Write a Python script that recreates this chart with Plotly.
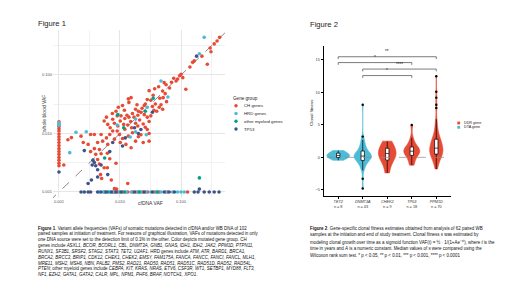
import plotly.graph_objects as go

W, H = 520, 292
def px(x): return x / W
def py(y): return 1 - y / H

FONT = "Liberation Sans, Arial, sans-serif"

# ---------------- Figure 1 data (VAFs) ----------------
DETECTION_LIMIT = 0.001
gene_groups = ["CH genes", "HRD genes", "other myeloid genes", "TP53"]
group_colors = ["#E64B35", "#4DBBD5", "#00A087", "#3C5488"]

ch_cf = [0.43,0.39,0.35,0.30,0.31,0.22,0.165,0.155,0.27,0.14,
         0.10,0.095,0.107,0.088,0.083,0.076,0.12,0.053,0.057,0.043,
         0.037,0.030,0.050,0.055,0.051,0.058,0.047,0.0152,0.0137,0.014,
         0.028,0.032,0.038,0.044,0.050,0.040,0.025,0.019,0.018,0.016,
         0.011,0.0118,0.0094,0.0086,0.0104,0.013,0.014,0.017,0.0196,0.021,
         0.022,0.025,0.028,0.032,0.030,0.006,0.0055,0.0063,0.0076,0.0081,
         0.0092,0.0069,0.0101,0.0115,0.0134,0.0155,0.0196,0.028,0.030,0.016,
         0.0137,0.011,0.0098,0.0076,0.0068,0.006,0.0049,0.0038,0.0033,0.0023,
         0.0025,0.003,0.0014,0.0016,0.0012,0.0043,0.0052,0.0063,0.0046,0.0038,
         0.0033,0.004,0.0049,0.0062,0.0081,0.0101,0.0125,0.018,0.0152,0.024,
         0.030,0.0043,0.0046,0.0055,0.0062,0.0086,0.0068,0.0048,0.005,0.0072,
         0.0134,0.0081,0.0088,0.020,0.023,0.026,0.034,0.036,0.012,0.015,
         0.018,0.024,0.026,0.009,0.012,0.022,0.020,0.035,0.065,0.070,
         0.009,0.0075,0.045]
ch_wb = [0.44,0.38,0.34,0.29,0.25,0.21,0.174,0.165,0.153,0.137,
         0.103,0.097,0.09,0.085,0.079,0.088,0.057,0.074,0.068,0.063,
         0.058,0.054,0.053,0.048,0.041,0.035,0.031,0.041,0.039,0.034,
         0.038,0.037,0.032,0.028,0.026,0.024,0.030,0.031,0.026,0.022,
         0.030,0.025,0.028,0.024,0.020,0.0205,0.019,0.019,0.0205,0.017,
         0.023,0.021,0.019,0.020,0.016,0.019,0.0163,0.0143,0.0175,0.015,
         0.0134,0.0125,0.0163,0.0143,0.014,0.0125,0.0134,0.0117,0.0100,0.0103,
         0.009,0.0082,0.0096,0.011,0.0096,0.0084,0.0096,0.0096,0.0096,0.0090,
         0.0070,0.0065,0.0078,0.0085,0.0029,0.007,0.0074,0.0065,0.0053,0.0055,
         0.0049,0.0044,0.0045,0.0046,0.008,0.007,0.0065,0.0074,0.0057,0.007,
         0.0074,0.0036,0.003,0.0026,0.0026,0.0031,0.0037,0.00198,0.0017,0.0016,
         0.0014,0.00114,0.00112,0.024,0.027,0.032,0.029,0.025,0.018,0.016,
         0.015,0.0145,0.0128,0.011,0.0118,0.0095,0.0088,0.045,0.060,0.075,
         0.020,0.022,0.040]
ch_wb_only = [0.0158,0.0145,0.0132,0.012,0.011,0.0098,0.0088,0.0079,0.007,
              0.0062,0.0055,0.0049,0.0044,0.0039,0.0035,0.0031,0.0028]
ch_cf_only = [0.0056,0.0076,0.0081,0.0092,0.011,0.0134,0.016,0.0196,0.0236,
              0.0284,0.037,0.044,0.060,0.128]

hrd_cf = [0.24,0.20,0.047,0.061,0.028,0.018,0.018,0.0147,0.0028,0.0019,0.0015,0.027,0.009]
hrd_wb = [0.44,0.23,0.079,0.042,0.028,0.0176,0.0107,0.0087,0.0107,0.0105,0.0047,0.0095,0.014]
hrd_wb_only = [0.0152,0.0138]
hrd_cf_only = [0.0046,0.0054,0.0068,0.0081,0.0098,0.0126,0.0152,0.0183,0.022,
               0.0266,0.032,0.039,0.047,0.056,0.073,0.088,0.10,0.113]

mye_cf = [0.035,0.0092,0.026,0.0056,0.20,0.0115]
mye_wb = [0.040,0.021,0.024,0.0038,0.00174,0.0125]
mye_wb_only = []
mye_cf_only = [0.0063,0.0118,0.0208,0.041]

tp53_cf = [0.18,0.034,0.0173,0.022,0.020,0.0122,0.0026,0.0068,0.0076,0.011,
           0.0036,0.0038,0.0035,0.004,0.0049,0.0043,0.0063,0.0043,0.0034,0.003,0.20]
tp53_wb = [0.21,0.023,0.0125,0.0117,0.0100,0.0084,0.0051,0.0049,0.007,0.0061,
           0.0035,0.0032,0.0029,0.0028,0.0029,0.0024,0.00198,0.0018,0.0016,0.0014,0.00112]
tp53_wb_only = [0.0022]
tp53_cf_only = [0.0023,0.0026,0.003,0.0033,0.0043,0.0049,0.0059,0.0072,0.0086,0.0104,
                0.0173,0.025,0.034,0.053,0.064,0.078,0.165,0.19,0.24,0.29,0.35,0.42]

scatter_groups = [
    (ch_cf, ch_wb, ch_wb_only, ch_cf_only),
    (hrd_cf, hrd_wb, hrd_wb_only, hrd_cf_only),
    (mye_cf, mye_wb, mye_wb_only, mye_cf_only),
    (tp53_cf, tp53_wb, tp53_wb_only, tp53_cf_only),
]

# ---------------- Figure 2 data (clonal fitness) ----------------
genes = ["TET2", "DNMT3A", "CHEK2", "TP53", "PPM1D"]
gene_class = ["DTA", "DTA", "DDR", "DDR", "DDR"]
fitness = {
    "TET2": [-0.45, -0.1, 0.05, 0.2, 0.35, 0.55, 0.75, 1.05],
    "DNMT3A": [-4.8, -3.3, -2.0, -1.7, -1.4, -1.2, -1.0, -0.8, -0.7, -0.6,
               -0.5, -0.4, -0.3, -0.2, -0.15, -0.1, -0.05, 0.0, 0.05, 0.1,
               0.15, 0.2, 0.25, 0.3, 0.35, 0.4, 0.45, 0.5, 0.6, 0.7,
               0.8, 0.9, 1.0, 1.1, 1.3, 1.5, 1.7, 1.9, 2.1, 2.4,
               2.7, 3.2, 8.1],
    "CHEK2": [-2.4, -0.8, -0.3, 0.3, 0.6, 0.9, 1.2, 2.0, 2.5],
    "TP53": [-1.2, -0.9, -0.4, 0.0, 0.3, 0.5, 0.6, 0.8, 0.9, 1.0, 1.1, 1.3,
             1.5, 1.6, 1.9, 2.3, 3.0, 5.0],
    "PPM1D": [-1.8, -1.6, -1.3, -1.1, -0.9, -0.7, -0.5, -0.4, -0.3, -0.2,
              -0.1, 0.0, 0.1, 0.2, 0.3, 0.4, 0.45,
              0.5, 0.55, 0.6, 0.65, 0.7, 0.8, 0.85, 0.9, 0.95, 1.0, 1.05, 1.1,
              1.15, 1.2, 1.25, 1.3, 1.35, 1.4,
              1.45, 1.5, 1.6, 1.7, 1.8, 1.9, 2.0, 2.1, 2.2, 2.3, 2.35, 2.4, 2.45,
              2.5, 2.55, 2.6, 2.7,
              2.8, 2.9, 3.0, 3.2, 3.4, 3.6, 3.8, 4.0, 4.3, 4.6, 5.0, 5.4, 5.9,
              7.6, 8.1, 9.2, 10.1, 12.5],
}
class_colors = {"DDR": "#E64B35", "DTA": "#4DBBD5"}
violin_widths = [0.93, 0.71, 0.72, 0.65, 0.54]
sig_pairs = [("TET2", "PPM1D", 15.5, "**"), ("TET2", "TP53", 14.6, "*"),
             ("DNMT3A", "PPM1D", 13.6, "****"), ("DNMT3A", "TP53", 12.6, "*")]

fig = go.Figure()

# reference diagonal
fig.add_trace(go.Scatter(x=[0.0007, 0.7], y=[0.0007, 0.7], mode="lines",
                         line=dict(color="#7a7a7a", width=0.9, dash="dash"),
                         xaxis="x", yaxis="y", showlegend=False, hoverinfo="skip"))

for (cf, wb, wb_only, cf_only), name, col in zip(scatter_groups, gene_groups, group_colors):
    xs = list(cf) + [DETECTION_LIMIT] * len(wb_only) + list(cf_only)
    ys = list(wb) + list(wb_only) + [DETECTION_LIMIT] * len(cf_only)
    fig.add_trace(go.Scatter(x=xs, y=ys, mode="markers", name=name,
                             marker=dict(color=col, size=3.6, line=dict(width=0)),
                             xaxis="x", yaxis="y", showlegend=False))

for i, g in enumerate(genes):
    col = class_colors[gene_class[i]]
    vpx = violin_widths[i] * 24.5
    fig.add_trace(go.Violin(
        x=[i] * len(fitness[g]), y=fitness[g], name=g, xaxis="x2", yaxis="y2",
        fillcolor=col, line=dict(color=col, width=0.6), opacity=1,
        width=violin_widths[i], scalemode="width", spanmode="hard",
        box=dict(visible=True, width=3.4 / vpx, fillcolor="white",
                 line=dict(color="black", width=0.7)),
        meanline=dict(visible=False),
        points="outliers", pointpos=0, jitter=0,
        marker=dict(color="black", size=2.4, line=dict(width=0)),
        showlegend=False))

shapes = []
annotations = []

# zero line in figure 2
shapes.append(dict(type="line", xref="x2 domain", yref="y2", x0=0.027, x1=1, y0=0, y1=0,
                   line=dict(color="#8c8c8c", width=0.7, dash="dash"), layer="above"))
# significance brackets
for a, b, yv, lab in sig_pairs:
    xa, xb = genes.index(a), genes.index(b)
    shapes.append(dict(type="path", xref="x2", yref="y2",
                       path=f"M {xa},{yv-0.35} L {xa},{yv} L {xb},{yv} L {xb},{yv-0.35}",
                       line=dict(color="#444444", width=0.7)))
    annotations.append(dict(x=(xa + xb) / 2, y=yv + 0.05, xref="x2", yref="y2",
                            text=lab, showarrow=False, yanchor="bottom",
                            font=dict(size=4.6, color="#222", family=FONT)))

# titles
annotations.append(dict(x=px(27.5), y=py(15.7), xref="paper", yref="paper", text="Figure 1",
                        showarrow=False, xanchor="left", yanchor="middle",
                        font=dict(size=7.6, color="#1a1a1a", family=FONT)))
annotations.append(dict(x=px(300), y=py(16.2), xref="paper", yref="paper", text="Figure 2",
                        showarrow=False, xanchor="left", yanchor="middle",
                        font=dict(size=7.6, color="#1a1a1a", family=FONT)))

# axis titles
annotations.append(dict(x=px(128), y=py(199.5), xref="paper", yref="paper", text="cfDNA VAF",
                        showarrow=False, font=dict(size=5, color="#333", family=FONT)))
annotations.append(dict(x=px(31), y=py(106), xref="paper", yref="paper", text="whole blood VAF",
                        showarrow=False, textangle=-90, font=dict(size=5, color="#333", family=FONT)))
annotations.append(dict(x=px(303), y=py(105), xref="paper", yref="paper", text="Clonal fitness",
                        showarrow=False, textangle=-90, font=dict(size=4.4, color="#222", family=FONT)))

# legend figure 1
annotations.append(dict(x=px(223), y=py(90), xref="paper", yref="paper", text="Gene group",
                        showarrow=False, xanchor="left", yanchor="middle",
                        font=dict(size=4.6, color="#222", family=FONT)))
for name, col, yy in zip(gene_groups, group_colors, [97.7, 105.5, 113.3, 121.0]):
    shapes.append(dict(type="circle", xref="paper", yref="paper",
                       x0=px(226.3), x1=px(229.7), y0=py(yy + 1.7), y1=py(yy - 1.7),
                       fillcolor=col, line=dict(width=0)))
    annotations.append(dict(x=px(233.5), y=py(yy), xref="paper", yref="paper", text=name,
                            showarrow=False, xanchor="left", yanchor="middle",
                            font=dict(size=4.3, color="#222", family=FONT)))

# legend figure 2
for name, col, yy in [("DDR gene", class_colors["DDR"], 115.0), ("DTA gene", class_colors["DTA"], 119.3)]:
    shapes.append(dict(type="rect", xref="paper", yref="paper",
                       x0=px(449.3), x1=px(452.1), y0=py(yy + 1.4), y1=py(yy - 1.4),
                       fillcolor=col, line=dict(width=0)))
    annotations.append(dict(x=px(453.6), y=py(yy), xref="paper", yref="paper", text=name,
                            showarrow=False, xanchor="left", yanchor="middle",
                            font=dict(size=3.7, color="#222", family=FONT)))

# captions
cap1 = [
    "<b>Figure 1</b>. Variant allele frequencies (VAFs) of somatic mutations detected in cfDNA and/or WB DNA of 102",
    "paired samples at initiation of treatment. For reasons of graphical illustration, VAFs of mutations detected in only",
    "one DNA source were set to the detection limit of 0.1% in the other. Color depicts mutated gene group. CH",
    "genes include <i>ASXL1, BCOR, BCORL1, CBL, DNMT3A, GNB1, GNAS, IDH1, IDH2, JAK2, PPM1D, PTPN11,</i>",
    "<i>RUNX1, SF3B1, SRSF2, STAG2, STAT3, TET2, U2AF1</i>. HRD genes include <i>ATM, ATR, BARD1, BRCA1,</i>",
    "<i>BRCA2, BRCC3, BRIP1, CDK12, CHEK1, CHEK2, EMSY, FAM175A, FANCA, FANCC, FANCI, FANCL, MLH1,</i>",
    "<i>MRE11, MSH2, MSH6, NBN, PALB2, PMS2, RAD21, RAD50, RAD51, RAD51C, RAD51D, RAD52, RAD54L,</i>",
    "<i>PTEN</i>; other myeloid genes include <i>CEBPA, KIT, KRAS, NRAS, ETV6, CSF3R, WT1, SETBP1, MYD88, FLT3,</i>",
    "<i>NF1, EZH2, GATA1, GATA2, CALR, MPL, NPM1, PHF6, BRAF, NOTCH1, XPO1</i>.",
]
cap2 = [
    "<b>Figure 2</b>. Gene-specific clonal fitness estimates obtained from analysis of 62 paired WB",
    "samples at the initiation and end of study treatment. Clonal fitness <i>s</i> was estimated by",
    "modeling clonal growth over time as a sigmoid function VAF(t) = ½ · 1/(1+Ae<sup>−st</sup>), where <i>t</i> is the",
    "time in years and <i>A</i> is a numeric constant. Median values of <i>s</i> were compared using the",
    "Wilcoxon rank sum test. * p &lt; 0.05, ** p &lt; 0.01, *** p &lt; 0.001, **** p &lt; 0.0001",
]
for k, line in enumerate(cap1):
    annotations.append(dict(x=px(27.7), y=py(220 + 5.84 * k), xref="paper", yref="paper", text=line,
                            showarrow=False, xanchor="left", yanchor="middle",
                            font=dict(size=4.45, color="#111", family=FONT)))
for k, line in enumerate(cap2):
    annotations.append(dict(x=px(300), y=py(220 + 6.83 * k), xref="paper", yref="paper", text=line,
                            showarrow=False, xanchor="left", yanchor="middle",
                            font=dict(size=4.45, color="#111", family=FONT)))

grid_major = "#E6E6E6"
grid_minor = "#F2F2F2"
fig.update_layout(
    width=W, height=H, margin=dict(l=0, r=0, t=0, b=0),
    paper_bgcolor="white", plot_bgcolor="white", showlegend=False,
    font=dict(family=FONT, color="#333"),
    violinmode="overlay",
    xaxis=dict(type="log", domain=[px(45), px(217)], range=[-3.098, -0.279], anchor="y",
               tickvals=[0.001, 0.01, 0.1], ticktext=["0.001", "0.010", "0.100"],
               showgrid=True, gridcolor=grid_major, gridwidth=0.7, zeroline=False, showline=False,
               ticks="", tickfont=dict(size=4, color="#555"),
               minor=dict(tickvals=[10 ** -2.5, 10 ** -1.5, 10 ** -0.5], showgrid=True,
                          gridcolor=grid_minor, gridwidth=0.5)),
    yaxis=dict(type="log", domain=[py(190), py(22)], range=[-3.103, -0.231], anchor="x",
               tickvals=[0.001, 0.01, 0.1], ticktext=["0.001", "0.010", "0.100"],
               showgrid=True, gridcolor=grid_major, gridwidth=0.7, zeroline=False, showline=False,
               ticks="", tickfont=dict(size=4, color="#555"),
               minor=dict(tickvals=[10 ** -2.5, 10 ** -1.5, 10 ** -0.5], showgrid=True,
                          gridcolor=grid_minor, gridwidth=0.5)),
    xaxis2=dict(domain=[px(315.5), px(443)], range=[-0.6, 4.6], anchor="y2",
                tickvals=list(range(len(genes))),
                ticktext=[f"<i>{g}</i><br>n = {len(fitness[g])}" for g in genes],
                showgrid=False, zeroline=False, showline=True, linecolor="black", linewidth=0.6,
                ticks="outside", ticklen=2, tickwidth=0.6, tickcolor="black",
                tickfont=dict(size=3.8, color="#333")),
    yaxis2=dict(domain=[py(188), py(37.7)], range=[-5.95, 17.2], anchor="x2",
                tickvals=[-5, 0, 5, 10, 15],
                showgrid=False, zeroline=False, showline=True, linecolor="black", linewidth=0.6,
                ticks="outside", ticklen=2, tickwidth=0.6, tickcolor="black",
                tickfont=dict(size=3.9, color="#333")),
    shapes=shapes, annotations=annotations,
)

fig.write_html("out.html", config={"displayModeBar": False})
